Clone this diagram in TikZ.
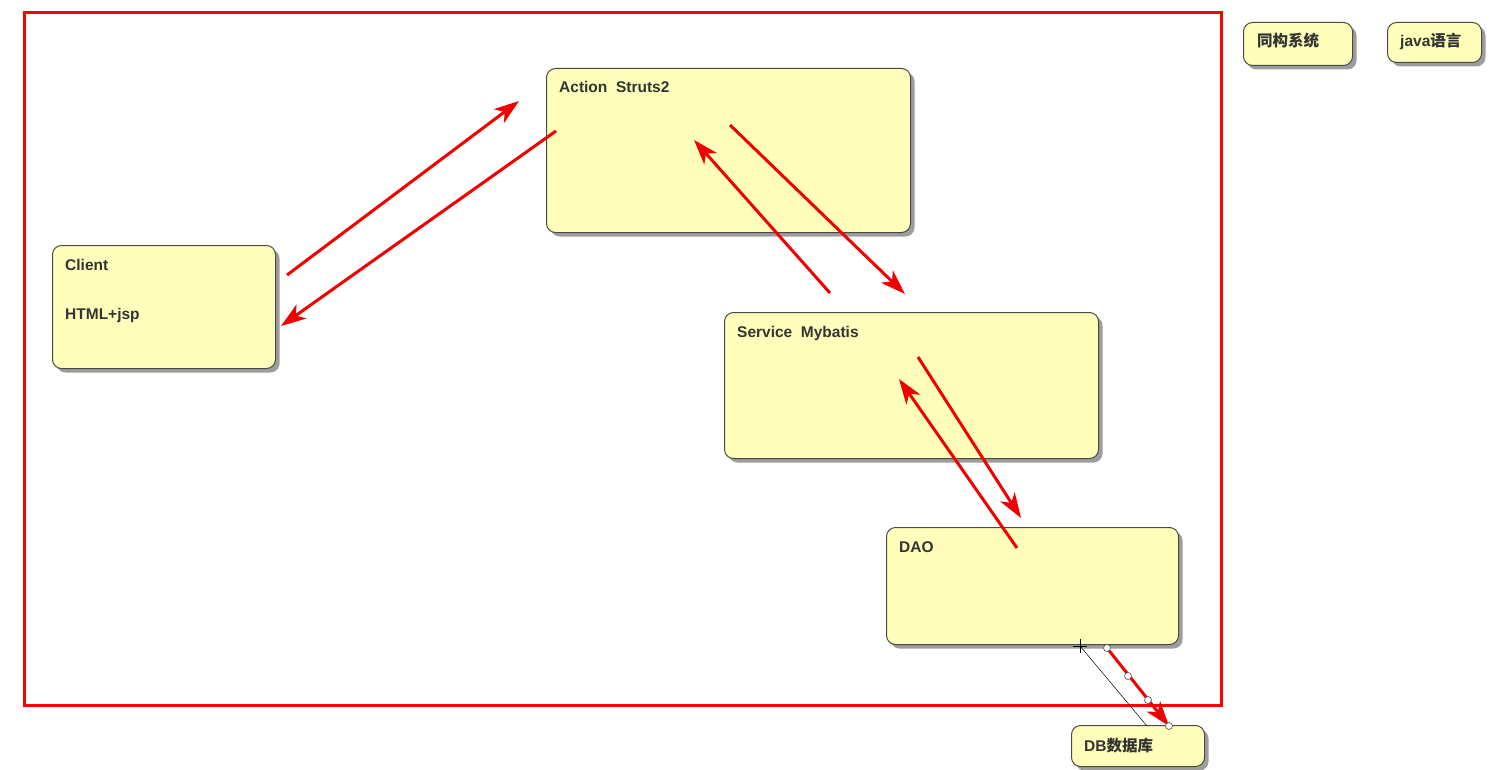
\documentclass[tikz,border=0pt]{standalone}
\usepackage{fontspec}
\setmainfont{Liberation Sans}
\newfontfamily\cjkfont{Noto Sans CJK SC}
\usetikzlibrary{arrows.meta,shadows}
\definecolor{notefill}{HTML}{FFFFBB}
\definecolor{noteedge}{HTML}{4A4A44}
\definecolor{arrowred}{HTML}{F00000}
\definecolor{notetextc}{HTML}{333333}
\tikzset{
    notebox/.style={draw=noteedge, fill=notefill, rounded corners=9pt, line width=1pt,
        anchor=north west, inner sep=0pt,
        drop shadow={shadow xshift=4pt, shadow yshift=-4pt, opacity=0.55, fill=black!70}},
    notetext/.style={anchor=base west, inner sep=0pt, font=\fontsize{15.5}{18}\selectfont\bfseries, text=notetextc},
    redarrow/.style={draw=arrowred, line width=3pt, -{Stealth[length=25pt,width=17pt,inset=7pt]}},
    handle/.style={circle, draw=black!70, fill=white, inner sep=0pt, minimum size=7pt, line width=0.6pt}
}
\begin{document}
\begin{tikzpicture}[x=1pt,y=-1pt]
    \useasboundingbox (0,0) rectangle (1496,770);
    % outer frame
    \draw[red, line width=3pt] (24,13) rectangle (1221,705);

    % boxes
    \node[notebox, minimum width=364pt, minimum height=164pt] (action) at (546,68) {};
    \node[notebox, minimum width=223pt, minimum height=123pt] (client) at (52,245) {};
    \node[notebox, minimum width=374pt, minimum height=146pt] (service) at (724,312) {};
    \node[notebox, minimum width=292pt, minimum height=117pt] (dao) at (886,527) {};
    \node[notebox, minimum width=133pt, minimum height=41pt] (db) at (1071,725) {};
    \node[notebox, minimum width=109pt, minimum height=43pt] (tonggou) at (1243,22) {};
    \node[notebox, minimum width=94pt, minimum height=40pt] (javalang) at (1387,22) {};

    % texts
    \node[notetext] (actionlbl) at (559,93) {Action\ \ Struts2};
    \node[notetext] (clientlbl) at (65,270) {Client};
    \node[notetext] (htmllbl) at (65,319) {HTML+jsp};
    \node[notetext] (servicelbl) at (737,337) {Service\ \ Mybatis};
    \node[notetext] (daolbl) at (899,552) {DAO};
    \node[notetext] (dblbl) at (1084,751) {DB{\cjkfont 数据库}};
    \node[notetext] (tonggoulbl) at (1257,47) {\cjkfont 同构系统};
    \node[notetext] (javalbl) at (1400,47) {java{\cjkfont 语言}};

    % arrow ends
    \coordinate (c2a) at (287,275);
    \coordinate (c2aend) at (519,101);
    \coordinate (a2c) at (556,131);
    \coordinate (a2cend) at (281,326);
    \coordinate (a2s) at (730,125);
    \coordinate (a2send) at (905,294);
    \coordinate (s2a) at (830,293);
    \coordinate (s2aend) at (694,140);
    \coordinate (s2d) at (918,357);
    \coordinate (s2dend) at (1021,518);
    \coordinate (d2s) at (1017,548);
    \coordinate (d2send) at (899,379);
    \coordinate (d2db) at (1107,648);
    \coordinate (d2dbmid) at (1128,676);
    \coordinate (d2dbmid2) at (1148,700);
    \coordinate (d2dbend) at (1169,726);
    \coordinate (cursor) at (1080,646);
    \coordinate (cursorend) at (1147,726);

    \draw[redarrow] (c2a) -- (c2aend);
    \draw[redarrow] (a2c) -- (a2cend);
    \draw[redarrow] (a2s) -- (a2send);
    \draw[redarrow] (s2a) -- (s2aend);
    \draw[redarrow] (s2d) -- (s2dend);
    \draw[redarrow] (d2s) -- (d2send);
    \draw[redarrow] (d2db) -- (d2dbend);

    % editing marks
    \draw[black, line width=0.5pt] (cursor) -- (cursorend);
    \draw[black, line width=0.6pt] ([xshift=-7pt]cursor) -- ([xshift=7pt]cursor)
        ([yshift=-7pt]cursor) -- ([yshift=7pt]cursor);
    \foreach \h in {d2db,d2dbmid,d2dbmid2,d2dbend}
        \node[handle] at (\h) {};
\end{tikzpicture}
\end{document}
